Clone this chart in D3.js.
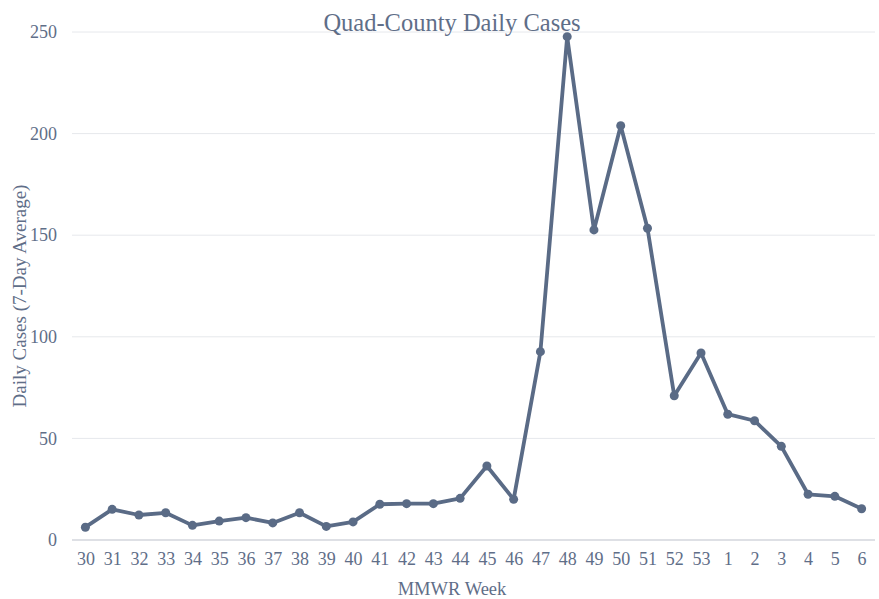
<!DOCTYPE html>
<html>
<head>
<meta charset="utf-8">
<script src="https://cdn.jsdelivr.net/npm/d3@7"></script>
<style>
  body { margin: 0; background: #fff; }
  text { font-family: "Liberation Serif", "Times New Roman", serif; fill: #5f6e88; }
</style>
</head>
<body>
<div class="chart"></div>
<script>
// MMWR weeks and 7-day average daily cases
var weeks = ["30", "31", "32", "33", "34", "35", "36", "37", "38", "39", "40", "41", "42", "43", "44",
  "45", "46", "47", "48", "49", "50", "51", "52", "53", "1", "2", "3", "4", "5", "6"];
var cases = [6.3, 15.1, 12.3, 13.4, 7.2, 9.3, 11.0, 8.4, 13.4, 6.7, 8.9, 17.6, 17.9, 17.9, 20.5,
  36.4, 20.0, 92.7, 247.7, 152.6, 203.9, 153.4, 71.0, 92.0, 61.9, 58.7, 46.1, 22.5, 21.5, 15.4];
var yTicks = [0, 50, 100, 150, 200, 250];

var svgWidth = 879;
var svgHeight = 599;
var margin = { top: 32, right: 4, bottom: 59, left: 72 };
var width = svgWidth - margin.left - margin.right;
var height = svgHeight - margin.top - margin.bottom;

var lineColor = "#5a6b86";

var svg = d3.select(".chart")
  .append("svg")
  .attr("width", svgWidth)
  .attr("height", svgHeight);

var chartGroup = svg.append("g")
  .attr("transform", `translate(${margin.left}, ${margin.top})`);

var data = weeks.map((w, i) => ({ week: w, value: cases[i] }));

// scales
var xScale = d3.scalePoint()
  .domain(weeks)
  .range([0, width])
  .padding(0.5);

var yScale = d3.scaleLinear()
  .domain([0, 250])
  .range([height, 0]);

// gridlines
chartGroup.append("g")
  .selectAll("line")
  .data(yTicks.filter(t => t > 0))
  .enter()
  .append("line")
  .attr("x1", 0)
  .attr("x2", width)
  .attr("y1", d => yScale(d))
  .attr("y2", d => yScale(d))
  .attr("stroke", "#e6e8ec")
  .attr("stroke-width", 1);

// baseline
chartGroup.append("line")
  .attr("x1", 0)
  .attr("x2", width)
  .attr("y1", yScale(0))
  .attr("y2", yScale(0))
  .attr("stroke", "#d3d6dd")
  .attr("stroke-width", 1.5);

// axes
var leftAxis = d3.axisLeft(yScale).tickValues(yTicks).tickSize(0).tickPadding(15);
var bottomAxis = d3.axisBottom(xScale).tickSize(0).tickPadding(12);

var yAxisG = chartGroup.append("g").call(leftAxis);
yAxisG.select(".domain").remove();
yAxisG.selectAll("text")
  .attr("font-size", "18px")
  .attr("font-family", "Liberation Serif, serif")
  .attr("fill", "#5f6e88");

var xAxisG = chartGroup.append("g")
  .attr("transform", `translate(0, ${height})`)
  .call(bottomAxis);
xAxisG.select(".domain").remove();
xAxisG.selectAll("text")
  .attr("font-size", "18px")
  .attr("font-family", "Liberation Serif, serif")
  .attr("fill", "#5f6e88");

// line
var line = d3.line()
  .x(d => xScale(d.week))
  .y(d => yScale(d.value));

chartGroup.append("path")
  .datum(data)
  .attr("d", line)
  .attr("fill", "none")
  .attr("stroke", lineColor)
  .attr("stroke-width", 3.8)
  .attr("stroke-linejoin", "round");

chartGroup.selectAll("circle")
  .data(data)
  .enter()
  .append("circle")
  .attr("cx", d => xScale(d.week))
  .attr("cy", d => yScale(d.value))
  .attr("r", 4.5)
  .attr("fill", lineColor);

// titles
svg.append("text")
  .attr("x", 452)
  .attr("y", 31)
  .attr("text-anchor", "middle")
  .attr("font-size", "24.5px")
  .text("Quad-County Daily Cases");

svg.append("text")
  .attr("x", 452)
  .attr("y", 595)
  .attr("text-anchor", "middle")
  .attr("font-size", "18.5px")
  .text("MMWR Week");

svg.append("text")
  .attr("transform", "translate(26, 296) rotate(-90)")
  .attr("text-anchor", "middle")
  .attr("font-size", "19px")
  .text("Daily Cases (7-Day Average)");
</script>
</body>
</html>
